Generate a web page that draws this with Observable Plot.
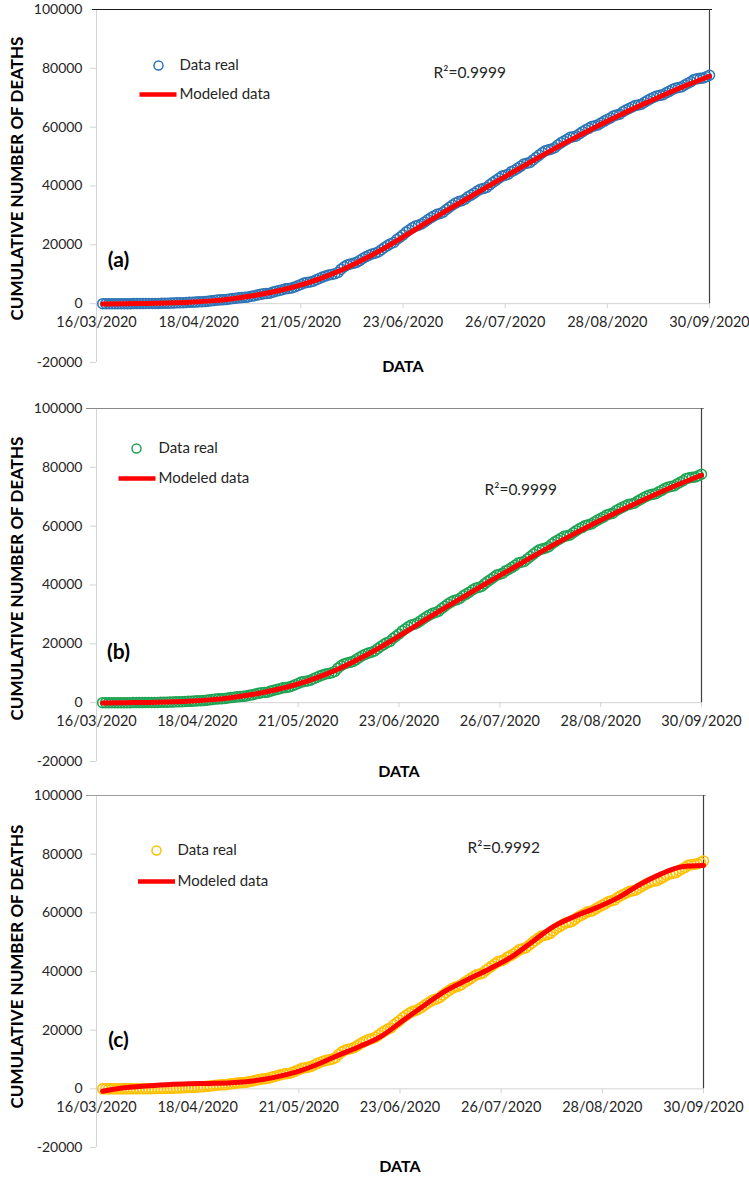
<!DOCTYPE html>
<html>
<head>
<meta charset="utf-8">
<script src="https://cdn.jsdelivr.net/npm/d3@7"></script>
<script src="https://cdn.jsdelivr.net/npm/@observablehq/plot@0.6"></script>
<style>
  html, body { margin: 0; padding: 0; background: #fff; }
  #chart { position: relative; width: 749px; height: 1177px; background: #fff; overflow: hidden; }
  #chart svg { position: absolute; left: 0; }
</style>
</head>
<body>
<div id="chart"></div>
<script>
// ---------------- DATA ----------------
// Cumulative deaths ("Data real"), daily from 18/03/2020 to 30/09/2020
const firstDay = "2020-03-18";
const deathsMar = [1,1,2,2,2,4,5,6,8,12,16,20,28,29];
const deathsApr = [37,50,60,79,94,125,141,174,194,233,273,296,332,406,449,486,546,650,686,712,857,970,1069,1221,1305,1351,1434,1569,1732,1859];
const deathsMay = [1972,2061,2154,2271,2507,2704,2961,3160,3353,3465,3573,3926,4220,4477,4767,5045,5177,5332,5666,6090,6510,6989,7179,7394,7633,8134,8597,9044,9415,9779,9930];
const deathsJun = [10167,10637,11729,12545,13170,13511,13699,14053,14649,15357,15944,16448,16872,17141,17580,18310,19080,19747,20394,20781,21825,22584,23377,24324,25060,25779,26381,26648,27121,27769];
const deathsJul = [28510,29189,29843,30366,30639,31119,32014,32796,33526,34191,34730,35006,35491,36327,36906,37574,38310,38888,39184,39485,40400,41190,41908,42645,43374,43680,44022,44876,45361,46000,46688];
const deathsAug = [47472,47746,48012,48869,49698,50517,51311,52006,52298,52581,53003,53929,54666,55293,55908,56543,56757,57023,57774,58481,59106,59610,60254,60480,60800,61450,62076,62594,63146,63819,64158];
const deathsSep = [64414,65241,65816,66329,66851,67326,67558,67781,68484,69049,69649,70183,70604,70821,71049,71678,72179,72803,73258,73493,73697,74348,74949,75439,76243,76430,76603,76740,77163,77646];

// Modeled data (weekly readings of the red curves)
const modelDates = ["2020-03-18","2020-03-25","2020-04-01","2020-04-08","2020-04-15","2020-04-22","2020-04-29",
  "2020-05-06","2020-05-13","2020-05-20","2020-05-27","2020-06-03","2020-06-10","2020-06-17","2020-06-24",
  "2020-07-01","2020-07-08","2020-07-15","2020-07-22","2020-07-29","2020-08-05","2020-08-12","2020-08-19",
  "2020-08-26","2020-09-02","2020-09-09","2020-09-16","2020-09-23","2020-09-30"];
const modeledA = [-150,0,70,220,470,950,1700,2750,4200,6050,8450,11350,14900,18900,23300,27800,32200,36500,40800,45000,49200,53300,57200,61000,64600,68000,71300,74400,77300];
const modeledB = [-150,0,70,220,470,950,1700,2750,4200,6050,8450,11350,14900,18900,23300,27800,32200,36500,40800,45000,49200,53300,57200,61000,64600,68000,71300,74400,77300];
const modeledC = [-800,400,1000,1400,1700,1850,2100,2700,3900,5700,8300,11500,14500,18000,23300,28500,33500,37200,40800,44700,50000,55300,58800,61700,65100,69500,73200,75700,76100];

// Axis ticks / labels
const xTickLabels = ["16/03/2020","18/04/2020","21/05/2020","23/06/2020","26/07/2020","28/08/2020","30/09/2020"];
const yTicks = [-20000,0,20000,40000,60000,80000,100000];
const panelLetters = ["(a)","(b)","(c)"];
const r2Labels = ["R²=0.9999","R²=0.9999","R²=0.9992"];
const legendLabels = ["Data real","Modeled data"];
const yTitle = "CUMULATIVE NUMBER OF DEATHS";
const xTitle = "DATA";

// ---------------- BUILD ----------------
const FONT = "Lato, 'Open Sans', 'DejaVu Sans', sans-serif";
const RED = "#FF0000";
const parseISO = d3.utcParse("%Y-%m-%d");
const parseDMY = d3.utcParse("%d/%m/%Y");
const start = parseISO(firstDay);
const realValues = [].concat(deathsMar, deathsApr, deathsMay, deathsJun, deathsJul, deathsAug, deathsSep);
const real = realValues.map((v, i) => ({date: d3.utcDay.offset(start, i), value: v}));
const mkModel = (vals) => vals.map((v, i) => ({date: parseISO(modelDates[i]), value: v}));
const xTicks = xTickLabels.map(parseDMY);
const xDomain = [xTicks[0], xTicks[xTicks.length - 1]];
const fmtX = d3.utcFormat("%d/%m/%Y");

const legendLine = {draw(ctx) { ctx.moveTo(-18.5, 0); ctx.lineTo(18.5, 0); }};

function panel(p) {
  const label = (txt, o) => Plot.text([txt], {frameAnchor: "top-left", text: d => d, lineAnchor: "middle", fill: "#262626", ...o});
  return Plot.plot({
    width: 749,
    height: p.height,
    marginLeft: 96,
    marginRight: p.mr,
    marginTop: p.mt,
    marginBottom: p.mb,
    style: {fontFamily: FONT, fontSize: "14px", color: "#262626", background: "transparent", overflow: "visible"},
    x: {type: "utc", domain: xDomain, axis: null},
    y: {domain: [-20000, 100000], axis: null},
    marks: [
      // y-axis line & x-axis line (at 0)
      Plot.ruleX([xDomain[0]], {y1: -20000, y2: 100000, stroke: "#d4d4d4"}),
      Plot.ruleY([0], {x1: () => xDomain[0], x2: () => xDomain[1], stroke: "#d4d4d4"}),
      Plot.ruleX(xTicks, {x: d => d, y1: 0, y2: 0, insetBottom: -5, stroke: "#d4d4d4"}),
      Plot.axisY({anchor: "left", ticks: yTicks, tickSize: 6, tickPadding: 8, stroke: "#d4d4d4", fill: "#262626",
        fontSize: 14, tickFormat: d => String(d), label: null}),
      Plot.text(xTicks, {x: d => d, y: 0, text: d => fmtX(d), dy: 19, fontSize: 14.5, fill: "#262626"}),
      // top & right border lines
      Plot.ruleY([100000], {stroke: p.topStroke, insetLeft: p.topInsetLeft, insetRight: -3}),
      Plot.ruleX([xDomain[1]], {y1: 0, y2: 100000, stroke: "#404040", strokeWidth: 1.2}),
      // data
      Plot.dot(real, {x: "date", y: "value", r: 5, stroke: p.color, strokeWidth: 1.5, fill: "none"}),
      Plot.line(p.model, {x: "date", y: "value", stroke: RED, strokeWidth: 5, curve: "monotone-x"}),
      // legend
      Plot.dot([0], {frameAnchor: "top-left", dx: p.lg.cx, dy: p.lg.cy, r: 4.5, stroke: p.color, strokeWidth: 1.5, fill: "none"}),
      label(legendLabels[0], {dx: p.lg.tx, dy: p.lg.cy, textAnchor: "start", fontSize: 15}),
      Plot.dot([0], {frameAnchor: "top-left", dx: p.lg.lx, dy: p.lg.ly, symbol: legendLine, r: 5, stroke: RED, strokeWidth: 4.5, fill: "none"}),
      label(legendLabels[1], {dx: p.lg.tx, dy: p.lg.ly, textAnchor: "start", fontSize: 15}),
      // R² and panel letter
      label(p.r2, {dx: p.r2x, dy: p.r2y, textAnchor: "start", fontSize: 15.5}),
      label(p.letter, {dx: 22, dy: p.lety, textAnchor: "middle", fontSize: 21, fontWeight: "bold", fill: "#000"}),
      // axis titles
      Plot.text([yTitle], {frameAnchor: "left", dx: -79, dy: p.ytdy, rotate: -90, textAnchor: "middle", lineAnchor: "middle",
        text: d => d, fontSize: 17, fontWeight: "bold", fill: "#000"}),
      Plot.text([xTitle], {frameAnchor: "bottom", dy: p.xtdy, lineAnchor: "middle", text: d => d, fontSize: 16, fontWeight: "bold", fill: "#000"})
    ]
  });
}

const panels = [
  {top: 0, height: 385, mt: 9, mb: 23, mr: 40, color: "#2E75B6", model: mkModel(modeledA), r2: r2Labels[0], letter: panelLetters[0],
   lg: {cx: 62, cy: 56, tx: 83, lx: 61.5, ly: 85}, r2x: 337, r2y: 64, lety: 251, ytdy: -7.5, xtdy: 4,
   topStroke: "#1a1a1a", topInsetLeft: -4},
  {top: 390, height: 390, mt: 18, mb: 19, mr: 48, color: "#1FA354", model: mkModel(modeledB), r2: r2Labels[1], letter: panelLetters[1],
   lg: {cx: 40, cy: 40, tx: 62, lx: 40.5, ly: 70}, r2x: 388, r2y: 82, lety: 244, ytdy: -6.5, xtdy: 10,
   topStroke: "#8a8a8a", topInsetLeft: -10},
  {top: 780, height: 397, mt: 15, mb: 30, mr: 46, color: "#FFC000", model: mkModel(modeledC), r2: r2Labels[2], letter: panelLetters[2],
   lg: {cx: 60, cy: 55, tx: 81, lx: 60, ly: 86}, r2x: 371, r2y: 53, lety: 245, ytdy: -5, xtdy: 19,
   topStroke: "#9a9a9a", topInsetLeft: -10}
];

const host = document.getElementById("chart");
for (const p of panels) {
  const svg = panel(p);
  svg.style.top = p.top + "px";
  host.appendChild(svg);
}
</script>
</body>
</html>
